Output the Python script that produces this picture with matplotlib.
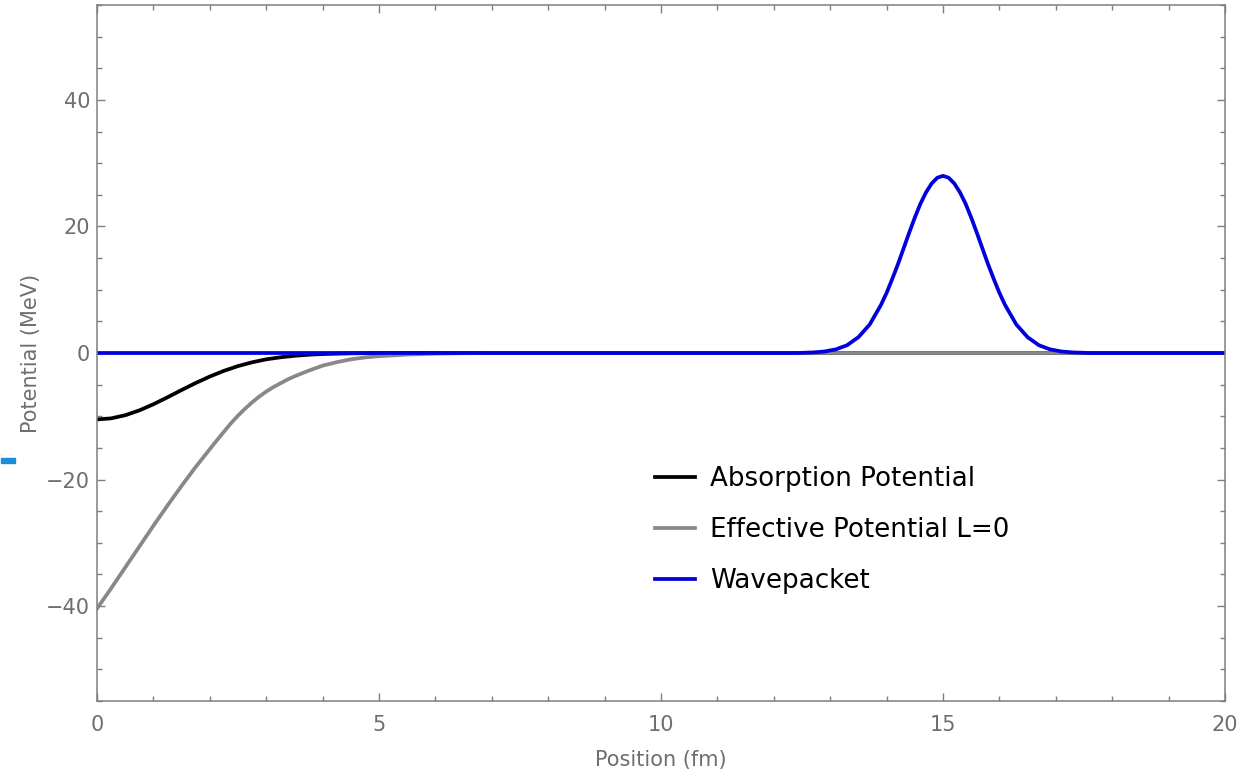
import matplotlib
matplotlib.use("Agg")
import matplotlib.pyplot as plt
from matplotlib.ticker import MultipleLocator
from matplotlib.patches import Rectangle

# values
absorb_x = [0, 0.25, 0.5, 0.75, 1.0, 1.25, 1.5, 1.75, 2.0, 2.25, 2.5, 2.75,
            3.0, 3.25, 3.5, 3.75, 4.0, 4.5, 5.0, 20]
absorb_y = [-10.5, -10.33, -9.84, -9.07, -8.1, -7.0, -5.85, -4.74, -3.72, -2.82,
            -2.07, -1.47, -1.0, -0.68, -0.44, -0.27, -0.16, -0.05, 0.0, 0.0]

eff_x = [0, 0.25, 0.5, 0.75, 1.0, 1.25, 1.5, 1.75, 2.0, 2.125, 2.25, 2.375,
         2.5, 2.625, 2.75, 2.875, 3.0, 3.125, 3.25, 3.375, 3.5, 3.75, 4.0,
         4.25, 4.5, 4.75, 5.0, 5.5, 6.0, 6.5, 7.0, 20]
eff_y = [-40.4, -37.2, -33.9, -30.6, -27.3, -24.1, -21.0, -18.0, -15.2, -13.8,
         -12.45, -11.1, -9.9, -8.8, -7.8, -6.9, -6.1, -5.4, -4.8, -4.2, -3.7,
         -2.8, -2.0, -1.45, -1.0, -0.7, -0.5, -0.25, -0.1, -0.03, 0.0, 0.0]

wave_x = [0, 12.4, 12.5, 12.7, 12.9, 13.1, 13.3, 13.5, 13.7, 13.9, 14.0, 14.1,
          14.2, 14.3, 14.4, 14.5, 14.6, 14.7, 14.8, 14.9, 15.0, 15.1, 15.2,
          15.3, 15.4, 15.5, 15.6, 15.7, 15.8, 15.9, 16.0, 16.1, 16.3, 16.5,
          16.7, 16.9, 17.1, 17.3, 17.5, 17.6, 20]
wave_y = [0.0, 0.0, 0.03, 0.09, 0.24, 0.57, 1.23, 2.5, 4.5, 7.6, 9.5, 11.7,
          14.0, 16.5, 19.0, 21.4, 23.6, 25.4, 26.8, 27.7, 28.0, 27.7, 26.8,
          25.4, 23.6, 21.4, 19.0, 16.5, 14.0, 11.7, 9.5, 7.6, 4.5, 2.5,
          1.23, 0.57, 0.24, 0.09, 0.03, 0.0, 0.0]

labels = ["Absorption Potential", "Effective Potential L=0", "Wavepacket"]
colors = ["black", "#888888", "#0000dd"]

frame_col = "#7f7f7f"
text_col = "#6e6e6e"

fig = plt.figure(figsize=(12.4, 7.72), dpi=100)
ax = fig.add_axes([97 / 1240, 71 / 772, 1128 / 1240, 696 / 772])

ax.plot(absorb_x, absorb_y, color=colors[0], lw=2.7, label=labels[0])
ax.plot(eff_x, eff_y, color=colors[1], lw=2.7, label=labels[1])
ax.plot(wave_x, wave_y, color=colors[2], lw=2.7, label=labels[2],
        solid_joinstyle="round")

ax.set_xlim(0, 20)
ax.set_ylim(-55, 55)
ax.xaxis.set_major_locator(MultipleLocator(5))
ax.xaxis.set_minor_locator(MultipleLocator(1))
ax.yaxis.set_major_locator(MultipleLocator(20))
ax.yaxis.set_minor_locator(MultipleLocator(5))

for s in ax.spines.values():
    s.set_color(frame_col)
    s.set_linewidth(1.1)

ax.tick_params(which="both", direction="in", top=True, right=True,
               color=frame_col, width=1.0, labelcolor=text_col, labelsize=15)
ax.tick_params(which="major", length=6)
ax.tick_params(which="minor", length=3.3)
ax.tick_params(axis="x", pad=10)
ax.tick_params(axis="y", pad=5)

ax.set_xlabel("Position (fm)", fontsize=15, color=text_col, labelpad=11)
ax.set_ylabel("Potential (MeV)", fontsize=15, color=text_col, labelpad=4)

ax.legend(loc="center left", bbox_to_anchor=(0.4947, 0.2457), frameon=False,
          fontsize=18.8, handlelength=1.55, handletextpad=0.55, labelspacing=0.95,
          borderpad=0, borderaxespad=0)

# small blue mark at the left edge of the reference
fig.patches.append(Rectangle((1 / 1240, 309 / 772), 14 / 1240, 5 / 772,
                             transform=fig.transFigure, color="#1a8fd8"))

fig.savefig("out.png", dpi=100)
